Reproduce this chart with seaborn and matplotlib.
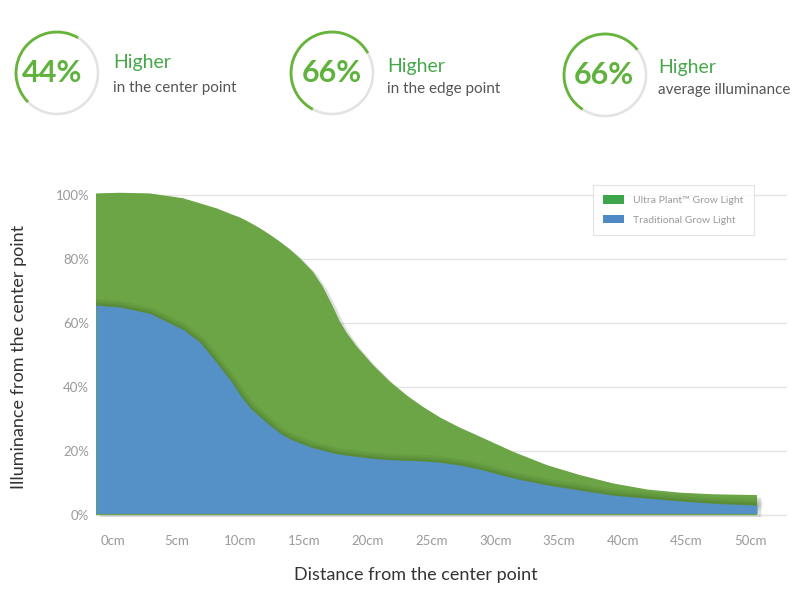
import numpy as np
import pandas as pd
import matplotlib
matplotlib.use("Agg")
import matplotlib.pyplot as plt
import matplotlib.patheffects as pe
from matplotlib.patches import Circle, Arc, Patch
import seaborn as sns

# ---------------- data ----------------
distance_cm = [-1.33, 0.55, 2.90, 5.49, 6.83, 8.16, 9.42, 9.97, 10.75, 11.54,
               12.32, 13.11, 13.89, 14.68, 15.70, 16.48, 17.27, 17.82, 18.37,
               19.15, 20.41, 21.74, 23.08, 24.33, 25.67, 27.24, 28.81, 31.40,
               34.07, 36.66, 39.25, 41.92, 44.51, 47.10, 50.55]
ultra_plant = [100.5, 100.7, 100.5, 99.0, 97.4, 95.8, 93.8, 93.0, 91.4, 89.6,
               87.6, 85.4, 83.0, 80.2, 76.0, 71.3, 65.1, 60.4, 56.8,
               52.6, 46.9, 41.7, 37.3, 33.8, 30.5, 27.3, 24.5, 19.8,
               15.6, 12.5, 9.9, 8.0, 7.0, 6.5, 6.25]
traditional = [65.6, 65.0, 63.0, 58.0, 54.0, 47.5, 41.0, 37.5, 33.5, 30.7,
               28.0, 25.6, 23.8, 22.5, 21.0, 20.3, 19.4, 19.0, 18.7,
               18.3, 17.7, 17.3, 17.1, 16.9, 16.5, 15.6, 14.3, 11.6,
               9.4, 7.8, 6.2, 5.3, 4.4, 3.7, 3.1]

x_ticks = [0, 5, 10, 15, 20, 25, 30, 35, 40, 45, 50]
x_tick_labels = ["0cm", "5cm", "10cm", "15cm", "20cm", "25cm", "30cm",
                 "35cm", "40cm", "45cm", "50cm"]
y_ticks = [0, 20, 40, 60, 80, 100]
y_tick_labels = ["0%", "20%", "40%", "60%", "80%", "100%"]

series_names = ["Ultra Plant\u2122 Grow Light", "Traditional Grow Light"]

stat_values = ["44%", "66%", "66%"]
stat_titles = ["Higher", "Higher", "Higher"]
stat_subtitles = ["in the center point", "in the edge point", "average illuminance"]

# ---------------- style ----------------
sns.set_theme(style="white")
plt.rcParams["font.family"] = ["Lato", "DejaVu Sans"]

GREEN_AREA = "#6ba545"
BLUE_AREA = "#5590c7"
GREEN_LEG = "#3da64a"
BLUE_LEG = "#4f8ac6"
TICK_COLOR = "#9a9a9a"
GRID_COLOR = "#e4e4e4"

fig = plt.figure(figsize=(8, 6), dpi=100)
W, H = 800, 600

ax = fig.add_axes([96 / W, 83 / H, 691 / W, 326.8 / H])

df = pd.DataFrame({"distance": distance_cm, "ultra": ultra_plant, "trad": traditional})

# grid lines
for yv in y_ticks:
    ax.axhline(yv, color=GRID_COLOR, lw=1.0, zorder=0)

# green area with soft shadow
ax.fill_between(df["distance"], 0, df["ultra"], color=GREEN_AREA, lw=0, zorder=2,
                path_effects=[pe.SimplePatchShadow(offset=(3, -2), alpha=0.12, shadow_rgbFace="#000000"),
                              pe.Normal()])

# shadow along the blue/green boundary
for lw, a in [(9, 0.06), (6, 0.08), (3, 0.10)]:
    sns.lineplot(data=df, x="distance", y="trad", color="#1e3d10", lw=lw, alpha=a,
                 ax=ax, zorder=3, legend=False, sort=False)

ax.fill_between(df["distance"], 0.5, df["trad"], color=BLUE_AREA, lw=0, zorder=4)

ax.set_xlim(-1.33, 52.9)
ax.set_ylim(-0.6, 101.5)

ax.set_xticks(x_ticks)
ax.set_xticklabels(x_tick_labels)
ax.set_yticks(y_ticks)
ax.set_yticklabels(y_tick_labels)
ax.tick_params(axis="x", length=0, pad=13, labelsize=9.5, labelcolor=TICK_COLOR)
ax.tick_params(axis="y", length=0, pad=5, labelsize=9.5, labelcolor=TICK_COLOR)
for s in ax.spines.values():
    s.set_visible(False)
ax.set_xlabel("Distance from the center point", fontsize=13, color="#333333")
ax.set_ylabel("Illuminance from the center point", fontsize=13, color="#333333")
ax.xaxis.set_label_coords(0.463, -0.152)
ax.yaxis.set_label_coords(-0.100, 0.49)

handles = [Patch(facecolor=GREEN_LEG, edgecolor="none"),
           Patch(facecolor=BLUE_LEG, edgecolor="none")]
leg = ax.legend(handles, series_names, loc="upper left", bbox_to_anchor=(0.719, 1.016),
                fontsize=7.5, frameon=True, fancybox=False, edgecolor="#dddddd",
                handlelength=2.0, handleheight=0.9, handletextpad=0.9,
                borderpad=1.0, labelspacing=0.9, borderaxespad=0)
leg.get_frame().set_linewidth(0.8)
for t in leg.get_texts():
    t.set_color("#9a9a9a")

# ---------------- top statistics ----------------
circle_centers = [(57, 73), (332, 73), (605, 75)]
arc_angles = [(59, 225), (29, 242), (38, 237)]
pct_x = [52, 332, 604]
text_x = [113, 387, 658]
title_base = [68, 72, 73]
sub_base = [92, 93, 94]
R = 41
for i in range(3):
    cx, cy = circle_centers[i]
    box = 48
    cax = fig.add_axes([(cx - box) / W, 1 - (cy + box) / H, 2 * box / W, 2 * box / H])
    cax.set_xlim(-box, box)
    cax.set_ylim(-box, box)
    cax.set_aspect("equal")
    cax.axis("off")
    cax.add_patch(Circle((0, 0), R, fill=False, edgecolor="#e3e3e3", lw=1.9))
    t1, t2 = arc_angles[i]
    cax.add_patch(Arc((0, 0), 2 * R, 2 * R, theta1=t1, theta2=t2, edgecolor="#66b53a", lw=2.0))
    fig.text(pct_x[i] / W, 1 - cy / H, stat_values[i], ha="center", va="center",
             fontsize=22, fontweight="bold", color="#5fb23c")
    fig.text(text_x[i] / W, 1 - title_base[i] / H, stat_titles[i], ha="left", va="baseline",
             fontsize=14, color="#47a84b")
    fig.text(text_x[i] / W, 1 - sub_base[i] / H, stat_subtitles[i], ha="left", va="baseline",
             fontsize=11, color="#555555")

fig.savefig("out.png", dpi=100)
